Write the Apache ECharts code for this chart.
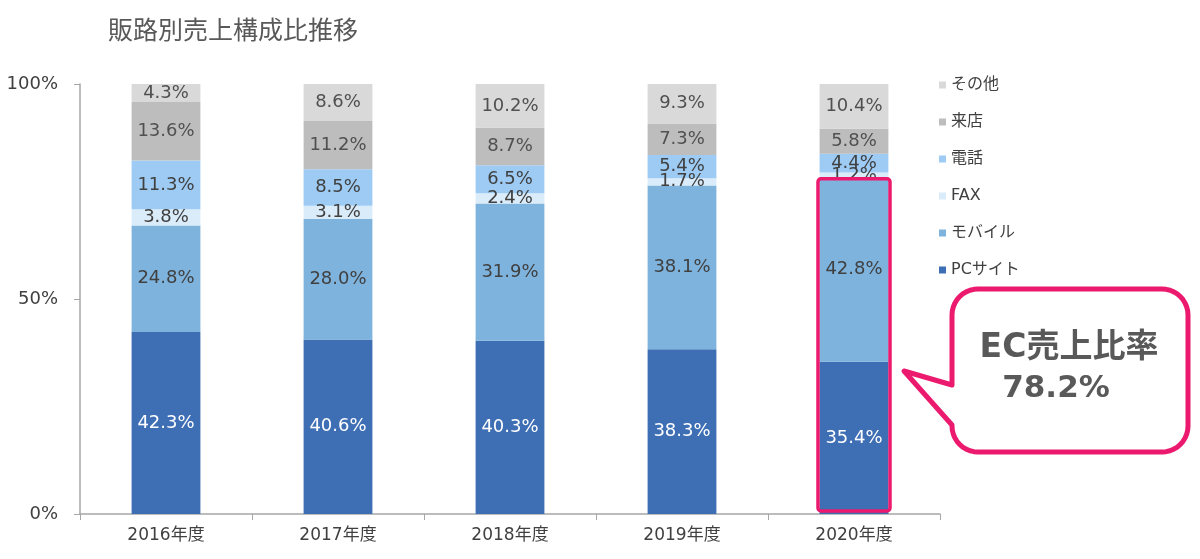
<!DOCTYPE html>
<html>
<head>
<meta charset="utf-8">
<script src="https://cdn.jsdelivr.net/npm/echarts@6/dist/echarts.min.js"></script>
<style>
html,body{margin:0;padding:0;background:#fff;}
#chart{width:1200px;height:559px;}
</style>
</head>
<body>
<div id="chart"></div>
<script>
const categories = ['2016年度','2017年度','2018年度','2019年度','2020年度'];
const seriesNames = ['PCサイト','モバイル','FAX','電話','来店','その他'];
const pcSite = [42.3, 40.6, 40.3, 38.3, 35.4];
const mobile = [24.8, 28.0, 31.9, 38.1, 42.8];
const fax    = [3.8, 3.1, 2.4, 1.7, 1.2];
const phone  = [11.3, 8.5, 6.5, 5.4, 4.4];
const store  = [13.6, 11.2, 8.7, 7.3, 5.8];
const other  = [4.3, 8.6, 10.2, 9.3, 10.4];
const yTicks = [0, 50, 100];
const ecRatioText = ['EC売上比率', '78.2%'];

const FONT = "'DejaVu Sans', 'Noto Sans CJK JP', sans-serif";
const colors = ['#3E6EB4', '#7EB3DD', '#DAEBF9', '#9DCBF4', '#BDBDBD', '#D9D9D9'];
const labelColors = ['#ffffff', '#404040', '#404040', '#404040', '#505050', '#505050'];
const dataSets = [pcSite, mobile, fax, phone, store, other];

const chart = echarts.init(document.getElementById('chart'), null, {renderer: 'canvas'});

const series = dataSets.map((d, i) => ({
  name: seriesNames[i],
  type: 'bar',
  stack: 'total',
  barWidth: '40%',
  data: d,
  itemStyle: {color: colors[i]},
  label: {
    show: true,
    position: 'inside',
    fontFamily: FONT,
    fontSize: 18,
    color: labelColors[i],
    formatter: p => p.value.toFixed(1) + '%'
  },
  emphasis: {disabled: true}
}));

chart.setOption({
  animation: false,
  textStyle: {fontFamily: FONT},
  title: {
    text: '販路別売上構成比推移',
    left: 103, top: 15,
    textStyle: {fontFamily: FONT, fontSize: 25, fontWeight: 'normal', color: '#595959'}
  },
  legend: {
    orient: 'vertical',
    left: 934, top: 72,
    itemWidth: 7, itemHeight: 7,
    itemGap: 21,
    icon: 'rect',
    data: seriesNames.slice().reverse(),
    textStyle: {fontFamily: FONT, fontSize: 16, color: '#404040'}
  },
  grid: {left: 80, right: 260, top: 84, bottom: 45, containLabel: false},
  xAxis: {
    type: 'category',
    data: categories,
    axisLine: {lineStyle: {color: '#A6A6A6', width: 1.5}},
    axisTick: {show: true, length: 6, lineStyle: {color: '#A6A6A6'}},
    axisLabel: {fontFamily: FONT, fontSize: 17, color: '#404040', margin: 13}
  },
  yAxis: {
    type: 'value',
    min: 0, max: 100, interval: 50,
    axisLine: {show: true, lineStyle: {color: '#A6A6A6', width: 1.5}},
    axisTick: {show: true, length: 6, lineStyle: {color: '#A6A6A6'}},
    splitLine: {show: false},
    axisLabel: {
      fontFamily: FONT, fontSize: 18, color: '#404040', margin: 22,
      formatter: v => yTicks.includes(v) ? v + '%' : ''
    }
  },
  series: series
});

// Highlight box around 2020 EC share (PC + mobile)
const ecTotal = pcSite[4] + mobile[4];
const pTop = chart.convertToPixel({xAxisIndex: 0, yAxisIndex: 0}, [4, ecTotal]);
const pBot = chart.convertToPixel({xAxisIndex: 0, yAxisIndex: 0}, [4, 0]);
const bw = 72;

// Callout bubble outline as polygon points
function arc(cx, cy, rad, a0, a1, pts) {
  const n = 10;
  for (let k = 0; k <= n; k++) {
    const a = (a0 + (a1 - a0) * k / n) * Math.PI / 180;
    pts.push([cx + rad * Math.cos(a), cy + rad * Math.sin(a)]);
  }
}
const L = 952, T = 289, R = 1188, B = 452, r = 26;
const bubble = [];
arc(R - r, T + r, r, -90, 0, bubble);
arc(R - r, B - r, r, 0, 90, bubble);
arc(L + r, B - r, r, 90, 180, bubble);
bubble.push([L, 425], [904, 371], [L, 385]);
arc(L + r, T + r, r, 180, 270, bubble);

chart.setOption({
  graphic: [
    {
      type: 'rect',
      shape: {x: pTop[0] - bw / 2, y: pTop[1] + 1, width: bw, height: pBot[1] - pTop[1] - 4, r: 3},
      style: {fill: 'none', stroke: '#EC1A6E', lineWidth: 3.5},
      z: 100
    },
    {
      type: 'polygon',
      shape: {points: bubble},
      style: {fill: '#ffffff', stroke: '#EC1A6E', lineWidth: 5, lineJoin: 'round'},
      z: 100
    },
    {
      type: 'text',
      x: 1069, y: 348,
      style: {text: ecRatioText[0], fontFamily: FONT, fontSize: 33, fontWeight: 'bold', fill: '#595959', align: 'center', verticalAlign: 'middle'},
      z: 101
    },
    {
      type: 'text',
      x: 1056, y: 389,
      style: {text: ecRatioText[1], fontFamily: FONT, fontSize: 31, fontWeight: 'bold', fill: '#595959', align: 'center', verticalAlign: 'middle'},
      z: 101
    }
  ]
});
</script>
</body>
</html>
